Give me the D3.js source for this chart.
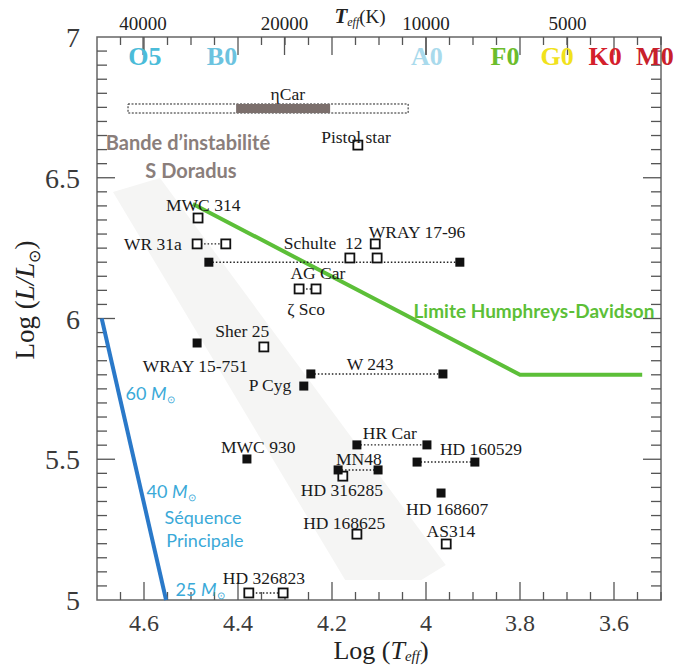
<!DOCTYPE html>
<html>
<head>
<meta charset="utf-8">
<script src="https://cdn.jsdelivr.net/npm/d3@7"></script>
<style>
  body { margin: 0; background: #fff; }
  text { font-family: "Liberation Serif", serif; }
  .sans { font-family: "Lato", "Open Sans", sans-serif; }
</style>
</head>
<body>
<svg id="chart"></svg>
<script>
var W = 689, H = 666;
var margin = {left: 97, right: 28, top: 37, bottom: 66};

// stars, [log Teff, log L]
var openSquares = [
  [4.145, 6.616], [4.485, 6.357], [4.487, 6.265], [4.426, 6.265], [4.108, 6.265],
  [4.162, 6.215], [4.104, 6.215], [4.270, 6.105], [4.234, 6.105], [4.345, 5.899],
  [4.177, 5.440], [4.147, 5.234], [3.957, 5.199], [4.377, 5.025], [4.304, 5.025]
];
var filledSquares = [
  [4.462, 6.200], [3.928, 6.200], [4.487, 5.913], [4.260, 5.760], [4.245, 5.803],
  [3.964, 5.803], [4.381, 5.501], [4.147, 5.551], [3.998, 5.551], [4.019, 5.490],
  [3.896, 5.490], [4.187, 5.462], [4.102, 5.462], [3.968, 5.380]
];
// dotted links between two states: [logT from, logT to, log L]
var dottedLinks = [
  [4.487, 4.426, 6.265], [4.462, 3.928, 6.200], [4.270, 4.234, 6.105],
  [4.245, 3.964, 5.803], [4.147, 3.998, 5.551], [4.019, 3.896, 5.490],
  [4.187, 4.102, 5.462], [4.377, 4.304, 5.025]
];
var starNames = ["\u03b7Car", "Pistol star", "MWC 314", "WR 31a", "Schulte  12", "WRAY 17-96",
  "AG Car", "\u03b6 Sco", "Sher 25", "WRAY 15-751", "P Cyg", "W 243", "MWC 930", "HR Car",
  "HD 160529", "MN48", "HD 316285", "HD 168607", "HD 168625", "AS314", "HD 326823"];
var nameLogT = [4.294, 4.149, 4.474, 4.581, 4.219, 4.019, 4.230, 4.255, 4.391, 4.491, 4.332,
  4.119, 4.357, 4.077, 3.883, 4.143, 4.179, 3.955, 4.174, 3.947, 4.345];
var nameLogL = [6.797, 6.645, 6.403, 6.265, 6.268, 6.307, 6.162, 6.034, 5.956, 5.831, 5.764,
  5.838, 5.544, 5.593, 5.536, 5.501, 5.391, 5.323, 5.274, 5.245, 5.078];

// eta Car range (outer dashed box, observed grey part)
var etaCarBox = [4.634, 4.038];
var etaCarBar = [4.404, 4.204];
var etaCarLogL = [6.730, 6.762];

// Humphreys-Davidson limit and main sequence
var hdLogT = [4.496, 3.80, 3.54];
var hdLogL = [6.407, 5.80, 5.80];
var zamsLogT = [4.690, 4.553];
var zamsLogL = [6.00, 5.00];

// S Doradus instability band outline
var bandLogT = [4.666, 4.566, 3.958, 4.010, 4.172];
var bandLogL = [6.449, 6.499, 5.124, 5.071, 5.071];

// spectral classes along the top
var specNames = ["O5", "B0", "A0", "F0", "G0", "K0", "M0"];
var specLogT = [4.598, 4.434, 3.998, 3.832, 3.721, 3.619, 3.513];
var specColors = ["#4bbcd9", "#6cc3df", "#a9daec", "#6cbd2c", "#f1e21c", "#d4202b", "#c8202b"];

var teffTicks = [40000, 20000, 10000, 5000];

var svg = d3.select('#chart').attr('width', W).attr('height', H);
svg.append('rect').attr('width', W).attr('height', H).attr('fill', '#fff');

var x = d3.scaleLinear().domain([4.7, 3.5]).range([margin.left, W - margin.right]);
var y = d3.scaleLinear().domain([5, 7]).range([H - margin.bottom, margin.top]);

var x0 = x.range()[0], x1 = x.range()[1], y0 = y.range()[0], y1 = y.range()[1];

// instability band
svg.append('polygon')
  .attr('points', bandLogT.map(function(t, i){ return x(t) + ',' + y(bandLogL[i]); }).join(' '))
  .attr('fill', '#f5f5f4');

// frame
svg.append('rect')
  .attr('x', x0).attr('y', y1).attr('width', x1 - x0).attr('height', y0 - y1)
  .attr('fill', 'none').attr('stroke', '#666').attr('stroke-width', 1.5);

// ticks: minor every 0.05, major every 0.2 on x; minor 0.05, major 0.5 on y
var xMinor = d3.range(4.65, 3.5, -0.05).map(function(v){ return +v.toFixed(2); });
var xMajor = [4.6, 4.4, 4.2, 4.0, 3.8, 3.6];
var yMinor = d3.range(5.05, 7, 0.05).map(function(v){ return +v.toFixed(2); });
var yMajor = [5.5, 6, 6.5];

var tickG = svg.append('g').attr('stroke', '#555').attr('stroke-width', 1.3);
function isMajor(list, v){ return list.some(function(m){ return Math.abs(m - v) < 1e-6; }); }

xMinor.forEach(function(v){
  var len = isMajor(xMajor, v) ? 18 : 8;
  tickG.append('line').attr('x1', x(v)).attr('x2', x(v)).attr('y1', y0).attr('y2', y0 - len);
  tickG.append('line').attr('x1', x(v)).attr('x2', x(v)).attr('y1', y1).attr('y2', y1 + len);
});
teffTicks.forEach(function(t){
  var v = Math.log10(t);
  tickG.append('line').attr('x1', x(v)).attr('x2', x(v)).attr('y1', y1).attr('y2', y1 + 18);
});
yMinor.forEach(function(v){
  var len = isMajor(yMajor, v) ? 18 : 10;
  tickG.append('line').attr('x1', x0).attr('x2', x0 + len).attr('y1', y(v)).attr('y2', y(v));
  tickG.append('line').attr('x1', x1).attr('x2', x1 - len).attr('y1', y(v)).attr('y2', y(v));
});

// axis numbers
svg.append('g').selectAll('text').data(xMajor).enter().append('text')
  .attr('x', function(d){ return x(d); }).attr('y', y0 + 31)
  .attr('text-anchor', 'middle').attr('font-size', 24).attr('fill', '#3a3a3a')
  .text(function(d){ return d === 4 ? '4' : d3.format('.1f')(d); });

svg.append('g').selectAll('text').data([5, 5.5, 6, 6.5, 7]).enter().append('text')
  .attr('x', x0 - 17).attr('y', function(d){ return y(d); })
  .attr('dy', '0.36em')
  .attr('text-anchor', 'end').attr('font-size', 28).attr('fill', '#3a3a3a')
  .text(function(d){ return d % 1 === 0 ? d : d3.format('.1f')(d); });

svg.append('g').selectAll('text').data(teffTicks).enter().append('text')
  .attr('x', function(d){ return x(Math.log10(d)); }).attr('y', y1 - 7)
  .attr('text-anchor', 'middle').attr('font-size', 19).attr('fill', '#222')
  .text(function(d){ return d; });

// Teff (K) title on top
var tt = svg.append('text').attr('x', 360).attr('y', 23).attr('text-anchor', 'middle')
  .attr('font-size', 19).attr('fill', '#222');
tt.append('tspan').attr('font-weight', 'bold').attr('font-style', 'italic').attr('font-size', 21).text('T');
tt.append('tspan').attr('font-style', 'italic').attr('font-size', 12).attr('dy', 3).text('eff');
tt.append('tspan').attr('dy', -3).text('(K)');

// axis titles
var xt = svg.append('text').attr('x', 381).attr('y', 659).attr('text-anchor', 'middle')
  .attr('font-size', 26).attr('fill', '#222');
xt.append('tspan').text('Log (');
xt.append('tspan').attr('font-style', 'italic').text('T');
xt.append('tspan').attr('font-style', 'italic').attr('font-size', 15).attr('dy', 2).text('eff');
xt.append('tspan').attr('dy', -2).text(')');

var yt = svg.append('text').attr('transform', 'translate(34,300) rotate(-90)')
  .attr('text-anchor', 'middle').attr('font-size', 27).attr('fill', '#222');
yt.append('tspan').text('Log (');
yt.append('tspan').attr('font-style', 'italic').text('L/L');
yt.append('tspan').attr('font-size', 16).attr('dy', 6).text('\u2299');
yt.append('tspan').attr('dy', -6).text(')');

// spectral classes
svg.append('g').selectAll('text').data(specNames).enter().append('text')
  .attr('x', function(d, i){ return x(specLogT[i]); }).attr('y', 65)
  .attr('text-anchor', 'middle').attr('font-size', 26).attr('font-weight', 'bold')
  .attr('fill', function(d, i){ return specColors[i]; })
  .text(function(d){ return d; });

// eta Car box and bar
svg.append('rect')
  .attr('x', x(etaCarBox[0])).attr('y', y(etaCarLogL[1]))
  .attr('width', x(etaCarBox[1]) - x(etaCarBox[0]))
  .attr('height', y(etaCarLogL[0]) - y(etaCarLogL[1]))
  .attr('fill', 'none').attr('stroke', '#222').attr('stroke-width', 1)
  .attr('stroke-dasharray', '2,1.5');
svg.append('rect')
  .attr('x', x(etaCarBar[0])).attr('y', y(etaCarLogL[1]))
  .attr('width', x(etaCarBar[1]) - x(etaCarBar[0]))
  .attr('height', y(etaCarLogL[0]) - y(etaCarLogL[1]))
  .attr('fill', '#7b6f6c');

// lines
var line = d3.line().x(function(d){ return x(d[0]); }).y(function(d){ return y(d[1]); });
svg.append('path').datum(hdLogT.map(function(t, i){ return [t, hdLogL[i]]; }))
  .attr('d', line).attr('fill', 'none').attr('stroke', '#5cbf38').attr('stroke-width', 4);
svg.append('path').datum(zamsLogT.map(function(t, i){ return [t, zamsLogL[i]]; }))
  .attr('d', line).attr('fill', 'none').attr('stroke', '#2a79c9').attr('stroke-width', 4);

// dotted links
svg.append('g').selectAll('line').data(dottedLinks).enter().append('line')
  .attr('x1', function(d){ return x(d[0]); }).attr('x2', function(d){ return x(d[1]); })
  .attr('y1', function(d){ return y(d[2]); }).attr('y2', function(d){ return y(d[2]); })
  .attr('stroke', '#222').attr('stroke-width', 1.4).attr('stroke-dasharray', '1.5,2');

// squares
var s = 9;
svg.append('g').selectAll('rect').data(openSquares).enter().append('rect')
  .attr('x', function(d){ return x(d[0]) - s / 2; }).attr('y', function(d){ return y(d[1]) - s / 2; })
  .attr('width', s).attr('height', s)
  .attr('fill', '#fff').attr('stroke', '#111').attr('stroke-width', 1.8);
svg.append('g').selectAll('rect').data(filledSquares).enter().append('rect')
  .attr('x', function(d){ return x(d[0]) - s / 2; }).attr('y', function(d){ return y(d[1]) - s / 2; })
  .attr('width', s).attr('height', s).attr('fill', '#111');

// star names
svg.append('g').selectAll('text').data(starNames).enter().append('text')
  .attr('x', function(d, i){ return x(nameLogT[i]); })
  .attr('y', function(d, i){ return y(nameLogL[i]); })
  .attr('dy', '0.35em').attr('text-anchor', 'middle')
  .attr('font-size', 17.5).attr('fill', '#1a1a1a')
  .style('white-space', 'pre')
  .text(function(d){ return d; });

// annotations
svg.append('text').attr('class', 'sans').attr('x', 188).attr('y', 143).attr('dy', '0.35em')
  .attr('text-anchor', 'middle').attr('font-size', 20).attr('font-weight', 'bold')
  .attr('fill', '#8a7e7b').text('Bande d\u2019instabilit\u00e9');
svg.append('text').attr('class', 'sans').attr('x', 191).attr('y', 171).attr('dy', '0.35em')
  .attr('text-anchor', 'middle').attr('font-size', 20).attr('font-weight', 'bold')
  .attr('fill', '#8a7e7b').text('S Doradus');
svg.append('text').attr('class', 'sans').attr('x', 534).attr('y', 311).attr('dy', '0.35em')
  .attr('text-anchor', 'middle').attr('font-size', 19).attr('font-weight', 'bold')
  .attr('fill', '#5cbf38').text('Limite Humphreys-Davidson');

var blue = '#3aa9d8';
function massLabel(mass, cx, cy){
  var t = svg.append('text').attr('class', 'sans').attr('x', cx).attr('y', cy).attr('dy', '0.35em')
    .attr('text-anchor', 'middle').attr('font-size', 18).attr('fill', blue);
  t.append('tspan').text(mass + ' ');
  t.append('tspan').attr('font-style', 'italic').text('M');
  t.append('tspan').attr('font-size', 10).attr('dy', 3).text('\u2299');
}
massLabel(60, 150, 394);
massLabel(40, 171, 492);
massLabel(25, 200, 590);
svg.append('text').attr('class', 'sans').attr('x', 203).attr('y', 518).attr('dy', '0.35em')
  .attr('text-anchor', 'middle').attr('font-size', 18).attr('fill', blue).text('S\u00e9quence');
svg.append('text').attr('class', 'sans').attr('x', 205).attr('y', 541).attr('dy', '0.35em')
  .attr('text-anchor', 'middle').attr('font-size', 18).attr('fill', blue).text('Principale');
</script>
</body>
</html>
